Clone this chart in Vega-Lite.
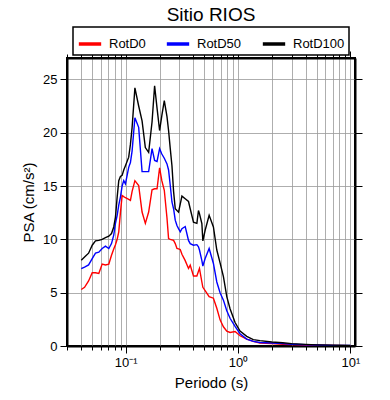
{
  "$schema": "https://vega.github.io/schema/vega-lite/v6.json",
  "autosize": {"type": "none"},
  "padding": {"left": 67, "top": 58, "right": 35, "bottom": 54},
  "width": 288,
  "height": 288,
  "background": "white",
  "config": {
    "font": "Liberation Sans",
    "view": {"stroke": "black", "strokeWidth": 2}
  },
  "title": {"text": "Sitio RIOS", "fontSize": 19, "font": "Liberation Sans", "fontWeight": "normal", "anchor": "middle", "frame": "group", "offset": 1, "color": "black"},
  "data": {
    "values": [
      {"T": 0.0402, "RotD0": 5.3, "RotD50": 7.25, "RotD100": 8.05},
      {"T": 0.0430, "RotD0": 5.5, "RotD50": 7.4, "RotD100": 8.35},
      {"T": 0.0467, "RotD0": 6.1, "RotD50": 7.6, "RotD100": 8.7},
      {"T": 0.0503, "RotD0": 6.87, "RotD50": 8.2, "RotD100": 9.45},
      {"T": 0.0538, "RotD0": 6.87, "RotD50": 8.7, "RotD100": 9.85},
      {"T": 0.0576, "RotD0": 6.8, "RotD50": 8.8, "RotD100": 9.9},
      {"T": 0.0617, "RotD0": 7.68, "RotD50": 9.14, "RotD100": 10.0},
      {"T": 0.0660, "RotD0": 7.6, "RotD50": 9.36, "RotD100": 10.17},
      {"T": 0.0707, "RotD0": 7.68, "RotD50": 9.14, "RotD100": 10.3},
      {"T": 0.0747, "RotD0": 8.5, "RotD50": 9.6, "RotD100": 10.54},
      {"T": 0.0782, "RotD0": 9.1, "RotD50": 10.4, "RotD100": 11.16},
      {"T": 0.0810, "RotD0": 9.5, "RotD50": 11.5, "RotD100": 12.09},
      {"T": 0.0839, "RotD0": 10.0, "RotD50": 12.25, "RotD100": 13.96},
      {"T": 0.0867, "RotD0": 10.7, "RotD50": 13.2, "RotD100": 15.5},
      {"T": 0.0897, "RotD0": 12.5, "RotD50": 13.96, "RotD100": 15.9},
      {"T": 0.0929, "RotD0": 14.1, "RotD50": 15.0, "RotD100": 16.0},
      {"T": 0.0960, "RotD0": 14.0, "RotD50": 15.5, "RotD100": 16.5},
      {"T": 0.0994, "RotD0": 13.9, "RotD50": 15.2, "RotD100": 16.9},
      {"T": 0.1063, "RotD0": 13.75, "RotD50": 16.75, "RotD100": 17.7},
      {"T": 0.1101, "RotD0": 13.65, "RotD50": 17.2, "RotD100": 18.9},
      {"T": 0.1140, "RotD0": 14.5, "RotD50": 18.3, "RotD100": 20.5},
      {"T": 0.1207, "RotD0": 15.5, "RotD50": 21.4, "RotD100": 24.2},
      {"T": 0.1304, "RotD0": 15.05, "RotD50": 20.5, "RotD100": 22.5},
      {"T": 0.1398, "RotD0": 12.56, "RotD50": 16.35, "RotD100": 21.1},
      {"T": 0.1495, "RotD0": 11.5, "RotD50": 16.35, "RotD100": 18.6},
      {"T": 0.1600, "RotD0": 12.56, "RotD50": 16.35, "RotD100": 18.15},
      {"T": 0.1715, "RotD0": 14.65, "RotD50": 18.5, "RotD100": 21.0},
      {"T": 0.1808, "RotD0": 14.74, "RotD50": 17.4, "RotD100": 24.4},
      {"T": 0.1900, "RotD0": 14.74, "RotD50": 17.3, "RotD100": 22.3},
      {"T": 0.2003, "RotD0": 16.7, "RotD50": 18.5, "RotD100": 20.2},
      {"T": 0.2096, "RotD0": 15.5, "RotD50": 18.0, "RotD100": 21.6},
      {"T": 0.2205, "RotD0": 14.6, "RotD50": 17.6, "RotD100": 23.0},
      {"T": 0.2330, "RotD0": 12.0, "RotD50": 17.07, "RotD100": 21.5},
      {"T": 0.2407, "RotD0": 10.07, "RotD50": 16.5, "RotD100": 20.2},
      {"T": 0.2492, "RotD0": 10.0, "RotD50": 15.05, "RotD100": 18.5},
      {"T": 0.2580, "RotD0": 9.95, "RotD50": 13.5, "RotD100": 16.9},
      {"T": 0.2667, "RotD0": 9.9, "RotD50": 12.87, "RotD100": 14.5},
      {"T": 0.2760, "RotD0": 9.6, "RotD50": 11.8, "RotD100": 12.87},
      {"T": 0.2858, "RotD0": 9.14, "RotD50": 11.3, "RotD100": 12.7},
      {"T": 0.2953, "RotD0": 9.1, "RotD50": 11.0, "RotD100": 12.56},
      {"T": 0.3058, "RotD0": 9.05, "RotD50": 10.7, "RotD100": 13.3},
      {"T": 0.3166, "RotD0": 8.6, "RotD50": 11.0, "RotD100": 14.05},
      {"T": 0.3386, "RotD0": 8.0, "RotD50": 11.2, "RotD100": 13.8},
      {"T": 0.3622, "RotD0": 7.27, "RotD50": 9.9, "RotD100": 13.55},
      {"T": 0.3751, "RotD0": 7.58, "RotD50": 9.6, "RotD100": 12.87},
      {"T": 0.4010, "RotD0": 6.56, "RotD50": 9.45, "RotD100": 11.6},
      {"T": 0.4300, "RotD0": 6.56, "RotD50": 9.5, "RotD100": 11.5},
      {"T": 0.4444, "RotD0": 7.0, "RotD50": 9.3, "RotD100": 12.7},
      {"T": 0.4535, "RotD0": 7.27, "RotD50": 9.0, "RotD100": 12.4},
      {"T": 0.4764, "RotD0": 6.0, "RotD50": 8.0, "RotD100": 11.47},
      {"T": 0.4862, "RotD0": 5.5, "RotD50": 7.5, "RotD100": 9.85},
      {"T": 0.5095, "RotD0": 5.2, "RotD50": 8.2, "RotD100": 10.85},
      {"T": 0.5530, "RotD0": 4.63, "RotD50": 9.14, "RotD100": 12.25},
      {"T": 0.6036, "RotD0": 4.48, "RotD50": 7.74, "RotD100": 11.16},
      {"T": 0.6470, "RotD0": 3.54, "RotD50": 6.0, "RotD100": 9.0},
      {"T": 0.6920, "RotD0": 2.45, "RotD50": 5.0, "RotD100": 7.8},
      {"T": 0.7410, "RotD0": 1.8, "RotD50": 4.3, "RotD100": 6.5},
      {"T": 0.7940, "RotD0": 1.4, "RotD50": 3.3, "RotD100": 4.63},
      {"T": 0.8490, "RotD0": 1.27, "RotD50": 2.6, "RotD100": 3.5},
      {"T": 0.9410, "RotD0": 1.36, "RotD50": 1.83, "RotD100": 2.2},
      {"T": 1.042, "RotD0": 0.96, "RotD50": 1.15, "RotD100": 1.4},
      {"T": 1.195, "RotD0": 0.65, "RotD50": 0.65, "RotD100": 0.9},
      {"T": 1.367, "RotD0": 0.43, "RotD50": 0.43, "RotD100": 0.6},
      {"T": 1.567, "RotD0": 0.28, "RotD50": 0.33, "RotD100": 0.5},
      {"T": 2.0, "RotD0": 0.22, "RotD50": 0.28, "RotD100": 0.38},
      {"T": 2.5, "RotD0": 0.17, "RotD50": 0.22, "RotD100": 0.3},
      {"T": 3.0, "RotD0": 0.14, "RotD50": 0.17, "RotD100": 0.22},
      {"T": 4.0, "RotD0": 0.1, "RotD50": 0.12, "RotD100": 0.15},
      {"T": 5.0, "RotD0": 0.07, "RotD50": 0.09, "RotD100": 0.11},
      {"T": 7.0, "RotD0": 0.05, "RotD50": 0.06, "RotD100": 0.08},
      {"T": 10.0, "RotD0": 0.03, "RotD50": 0.04, "RotD100": 0.05}
    ]
  },
  "transform": [{"fold": ["RotD0", "RotD50", "RotD100"], "as": ["comp", "psa"]}],
  "layer": [
    {
      "mark": {"type": "line", "strokeWidth": 1.4, "clip": true},
      "encoding": {
        "x": {
          "field": "T", "type": "quantitative",
          "scale": {"type": "log", "domain": [0.03, 11], "nice": false},
          "axis": {
            "orient": "bottom",
            "title": "Periodo (s)",
            "titleFontSize": 15, "titleFontWeight": "normal", "titleColor": "black", "titlePadding": 6,
            "values": [0.03, 0.04, 0.05, 0.06, 0.07, 0.08, 0.09, 0.1, 0.2, 0.3, 0.4, 0.5, 0.6, 0.7, 0.8, 0.9, 1, 2, 3, 4, 5, 6, 7, 8, 9, 10],
            "labelExpr": "datum.value == 0.1 ? '10⁻¹' : datum.value == 1 ? '10⁰' : datum.value == 10 ? '10¹' : ''",
            "labelFontSize": 13, "labelColor": "black", "labelPadding": 3, "labelFlush": false, "labelOverlap": false,
            "tickSize": {"condition": {"test": "datum.value == 0.1 || datum.value == 1 || datum.value == 10", "value": 7}, "value": 4},
            "tickColor": "black", "tickWidth": 1,
            "grid": true, "gridColor": "#999999", "gridWidth": 0.8,
            "domainColor": "black", "domainWidth": 2
          }
        },
        "y": {
          "field": "psa", "type": "quantitative",
          "scale": {"domain": [0, 27], "nice": false},
          "axis": {
            "orient": "left",
            "title": "PSA (cm/s²)",
            "titleFontSize": 15, "titleFontWeight": "normal", "titleColor": "black", "titlePadding": 6,
            "values": [0, 5, 10, 15, 20, 25],
            "labelFontSize": 13, "labelColor": "black", "labelPadding": 3,
            "tickSize": 7, "tickColor": "black",
            "grid": true, "gridColor": "#999999", "gridWidth": 0.8,
            "domainColor": "black", "domainWidth": 2
          }
        },
        "color": {
          "field": "comp", "type": "nominal",
          "scale": {"domain": ["RotD0", "RotD50", "RotD100"], "range": ["#ff0000", "#0000ff", "#000000"]},
          "legend": {
            "title": null,
            "orient": "none",
            "legendX": 6,
            "legendY": -31,
            "direction": "horizontal",
            "symbolType": "stroke",
            "symbolStrokeWidth": 3.5,
            "symbolSize": 500,
            "labelFontSize": 13,
            "labelColor": "black",
            "labelOffset": 6,
            "columnPadding": 13,
            "padding": 4,
            "strokeColor": "black",
            "fillColor": "white",
            "encode": {"legend": {"update": {"strokeWidth": {"value": 1.5}}}}
          }
        }
      }
    },
    {
      "mark": {"type": "point", "opacity": 0},
      "encoding": {
        "x": {
          "field": "T", "type": "quantitative",
          "axis": {
            "orient": "top", "title": null, "labels": false, "grid": false,
            "values": [0.03, 0.04, 0.05, 0.06, 0.07, 0.08, 0.09, 0.1, 0.2, 0.3, 0.4, 0.5, 0.6, 0.7, 0.8, 0.9, 1, 2, 3, 4, 5, 6, 7, 8, 9, 10],
            "tickSize": {"condition": {"test": "datum.value == 0.1 || datum.value == 1 || datum.value == 10", "value": 7}, "value": 4},
            "tickColor": "black",
            "domainColor": "black", "domainWidth": 2
          }
        },
        "y": {
          "field": "psa", "type": "quantitative",
          "axis": {
            "orient": "right", "title": null, "labels": false, "grid": false,
            "values": [0, 5, 10, 15, 20, 25],
            "tickSize": 7, "tickColor": "black",
            "domainColor": "black", "domainWidth": 2
          }
        }
      }
    }
  ],
  "resolve": {"axis": {"x": "independent", "y": "independent"}}
}
